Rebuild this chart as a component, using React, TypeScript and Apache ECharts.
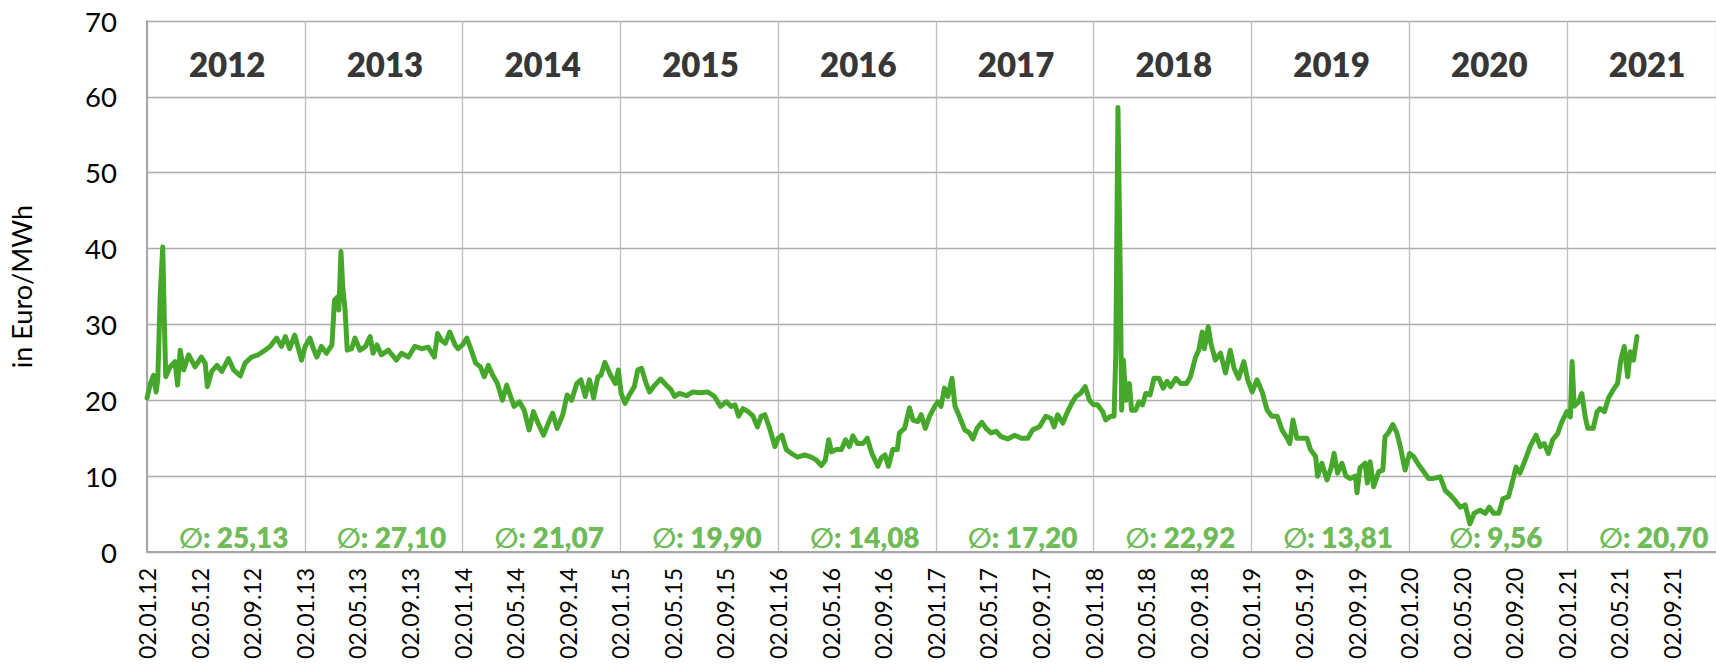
import React, { useEffect, useRef } from 'react';
import * as echarts from 'echarts';

// ---- Data ----
const yearLabels = ['2012', '2013', '2014', '2015', '2016', '2017', '2018', '2019', '2020', '2021'];
const averages = [25.13, 27.1, 21.07, 19.9, 14.08, 17.2, 22.92, 13.81, 9.56, 20.7];

const tickLabels = [
  '02.01.12', '02.05.12', '02.09.12', '02.01.13', '02.05.13', '02.09.13',
  '02.01.14', '02.05.14', '02.09.14', '02.01.15', '02.05.15', '02.09.15',
  '02.01.16', '02.05.16', '02.09.16', '02.01.17', '02.05.17', '02.09.17',
  '02.01.18', '02.05.18', '02.09.18', '02.01.19', '02.05.19', '02.09.19',
  '02.01.20', '02.05.20', '02.09.20', '02.01.21', '02.05.21', '02.09.21',
];

const dates2012 = ['01-02','01-10','01-17','01-23','01-27','02-02','02-08','02-12','02-15','02-25','03-06','03-12','03-18','03-26','04-07','04-22','05-06','05-15','05-20','05-30','06-12','06-23','07-08','07-20','08-05','08-16','08-31','09-16','10-01','10-13','10-28','11-09','11-18','11-28','12-09','12-18','12-25'];
const prices2012 = [20.3,22.2,23.3,21.1,22.7,33.6,40.2,29.7,23.1,24.4,25.1,22.0,26.6,24.0,26.0,24.4,25.7,24.9,21.8,23.8,24.6,23.8,25.5,24.0,23.2,24.9,25.7,26.0,26.6,27.1,28.2,27.1,28.4,26.8,28.6,26.8,25.3];

const dates2013 = ['01-03','01-14','01-22','01-30','02-10','02-22','03-04','03-10','03-17','03-20','03-25','03-29','04-04','04-09','04-19','04-27','05-08','05-21','06-01','06-08','06-17','06-27','07-13','08-01','08-13','08-29','09-13','09-29','10-14','10-28','11-05','11-14','11-23','12-03','12-15','12-22'];
const prices2013 = [27.1,28.2,26.8,25.7,27.1,26.2,27.3,33.2,33.6,31.9,39.6,35.0,31.9,26.6,26.8,28.2,26.6,27.1,28.4,26.2,27.3,26.0,26.6,25.3,26.2,25.7,27.1,26.8,27.0,25.7,28.8,27.9,27.5,29.0,27.3,26.8];

const dates2014 = ['01-02','01-12','01-21','02-02','02-13','02-22','03-01','03-11','03-22','04-03','04-13','04-22','04-30','05-12','05-23','06-04','06-14','06-23','07-07','07-18','07-28','08-08','08-21','08-31','09-11','09-23','10-02','10-12','10-22','11-01','11-11','11-18','11-27','12-10','12-21','12-28'];
const prices2014 = [27.3,28.2,26.8,24.9,24.4,23.1,24.6,23.3,22.2,20.0,22.0,20.5,19.2,19.8,18.7,16.1,18.5,17.2,15.4,17.0,18.3,16.3,18.1,20.7,20.0,22.2,22.7,20.5,22.7,20.3,23.1,23.3,25.0,23.3,22.2,24.0];

const dates2015 = ['01-04','01-13','01-23','02-04','02-12','02-21','03-01','03-09','03-21','04-04','04-17','04-28','05-06','05-17','06-03','06-18','07-03','07-22','08-07','08-21','09-04','09-15','09-24','10-02','10-12','10-24','11-05','11-15','11-24','12-02','12-13','12-25'];
const prices2015 = [20.9,19.6,20.7,21.8,24.0,24.2,22.2,21.1,22.0,22.8,22.0,21.4,20.5,20.9,20.6,21.1,21.0,21.1,20.5,19.2,19.8,19.2,19.4,17.9,18.9,18.5,17.9,16.5,17.9,18.1,16.3,13.9];

const dates2016 = ['01-02','01-11','01-21','02-02','02-17','03-03','03-18','03-30','04-11','04-20','04-28','05-04','05-15','05-27','06-06','06-15','06-23','07-03','07-16','07-26','08-06','08-20','08-28','09-06','09-14','09-24','10-04','10-09','10-21','11-02','11-10','11-21','11-29','12-08','12-18','12-30'];
const prices2016 = [15.0,15.4,13.5,13.0,12.5,12.8,12.5,12.1,11.4,12.1,14.8,13.2,13.5,13.5,14.8,13.9,15.3,14.3,14.3,15.0,13.0,11.3,12.4,12.8,11.3,13.5,13.5,15.7,16.3,19.0,17.4,17.2,18.1,16.3,17.9,19.2];

const dates2017 = ['01-07','01-14','01-22','01-30','02-09','02-16','02-26','03-08','03-19','03-27','04-06','04-17','04-27','05-08','05-20','06-01','06-16','07-02','07-17','08-02','08-13','08-29','09-13','09-25','10-02','10-10','10-22','11-01','11-12','11-22','12-02','12-13','12-23'];
const prices2017 = [19.8,19.2,21.6,20.5,22.9,19.2,17.9,16.1,15.7,14.9,16.3,17.1,16.3,15.7,15.9,15.2,14.9,15.4,15.0,15.0,16.1,16.5,17.9,17.6,16.5,18.1,17.0,18.3,19.6,20.5,20.9,21.8,20.0];

const dates2018 = ['01-02','01-11','01-23','01-30','02-11','02-19','02-23','02-28','03-03','03-06','03-10','03-16','03-24','03-29','04-08','04-16','04-24','05-01','05-11','05-20','06-01','06-11','06-20','06-28','07-10','07-21','08-04','08-13','08-25','09-02','09-10','09-15','09-24','09-30','10-10','10-22','11-03','11-14','11-23','12-03','12-15','12-24'];
const prices2018 = [19.4,19.4,18.5,17.4,17.9,17.9,26.2,58.6,35.8,18.7,25.3,20.0,22.2,18.7,18.7,19.8,19.4,20.9,20.7,22.9,22.9,21.6,22.5,21.8,22.9,22.2,22.2,23.1,25.7,26.6,29.0,26.8,29.7,27.5,25.3,26.2,23.6,26.6,24.2,22.9,25.1,22.7];

const dates2019 = ['01-04','01-15','01-27','02-08','02-19','03-01','03-12','03-24','03-30','04-07','04-16','04-28','05-09','05-17','05-29','06-03','06-13','06-25','07-04','07-11','07-19','07-29','08-08','08-18','08-30','09-03','09-10','09-22','09-27','10-03','10-11','10-23','11-02','11-07','11-15','11-25','12-04','12-12','12-23'];
const prices2019 = [21.1,22.7,21.1,18.7,17.9,17.9,16.1,15.0,14.3,17.4,15.0,15.0,15.0,13.5,12.6,10.0,11.7,9.5,11.1,13.0,10.4,11.7,10.0,9.7,10.0,7.8,11.1,11.7,9.1,11.9,8.6,10.6,10.8,15.2,15.7,16.8,15.7,13.9,10.8];

const dates2020 = ['01-03','01-12','01-24','02-05','02-16','02-28','03-13','03-25','04-06','04-17','04-29','05-10','05-21','05-31','06-14','06-26','07-05','07-15','07-27','08-06','08-19','08-27','09-06','09-15','09-27','10-08','10-22','11-01','11-10','11-20','11-30','12-11','12-21'];
const prices2020 = [13.0,12.6,11.5,10.6,9.7,9.7,9.9,8.1,7.5,6.8,5.9,6.2,3.7,5.1,5.5,5.1,5.9,5.1,5.1,7.0,7.3,9.0,11.2,10.4,12.1,13.9,15.4,13.9,14.3,13.0,14.8,15.6,17.2];

const dates2021 = ['01-02','01-10','01-14','01-19','01-29','02-06','02-14','02-20','03-02','03-11','03-18','03-28','04-07','04-18','04-28','05-05','05-13','05-21','05-27','06-04','06-12'];
const prices2021 = [18.5,17.8,25.1,19.2,19.8,20.9,17.8,16.3,16.3,18.5,18.9,18.5,20.3,21.4,22.2,25.3,27.1,23.1,26.4,25.3,28.4];

const yearDates = [dates2012, dates2013, dates2014, dates2015, dates2016, dates2017, dates2018, dates2019, dates2020, dates2021];
const yearPrices = [prices2012, prices2013, prices2014, prices2015, prices2016, prices2017, prices2018, prices2019, prices2020, prices2021];

// months since 02.01.2012
const toMonths = (yearIdx: number, md: string) => {
  const [m, d] = md.split('-').map(Number);
  return yearIdx * 12 + (m - 1) + (d - 2) / 30.5;
};

const GREEN = '#46A82A';
const FONT = 'Lato, "Noto Sans", "DejaVu Sans", sans-serif';

export default function App() {
  const ref = useRef<HTMLDivElement>(null);

  useEffect(() => {
    if (!ref.current) return;
    const chart = echarts.init(ref.current, undefined, { renderer: 'svg' });

    const lineData: [number, number][] = [];
    yearDates.forEach((ds, yi) => {
      ds.forEach((md, i) => lineData.push([toMonths(yi, md), yearPrices[yi][i]]));
    });

    const xMax = 119.34;

    chart.setOption({
      animation: false,
      grid: { left: 145, right: 0, top: 21, bottom: 113, containLabel: false },
      xAxis: [
        {
          type: 'value',
          min: 0,
          max: xMax,
          interval: 4,
          axisLine: { show: true, onZero: false, lineStyle: { color: '#a6a6a6', width: 2 } },
          axisTick: { show: false },
          splitLine: { show: false },
          axisLabel: {
            rotate: 90,
            margin: 16,
            fontSize: 23,
            color: '#000',
            fontFamily: FONT,
            showMaxLabel: false,
            formatter: (v: number) => {
              const idx = Math.round(v / 4);
              return Math.abs(v - idx * 4) < 0.01 && tickLabels[idx] ? tickLabels[idx] : '';
            },
          },
        },
        {
          type: 'value',
          position: 'top',
          min: 0,
          max: xMax,
          interval: 12,
          axisLine: { show: false },
          axisTick: { show: false },
          axisLabel: { show: false },
          splitLine: { show: true, lineStyle: { color: '#bfbfbf', width: 1.3 } },
        },
      ],
      yAxis: {
        type: 'value',
        min: 0,
        max: 70,
        interval: 10,
        name: 'in Euro/MWh',
        nameLocation: 'middle',
        nameRotate: 90,
        nameGap: 112,
        nameTextStyle: { fontSize: 27, color: '#000', fontFamily: FONT },
        axisLine: { show: true, lineStyle: { color: '#a6a6a6', width: 2 } },
        axisTick: { show: false },
        axisLabel: { margin: 30, fontSize: 27.5, color: '#000', fontFamily: FONT },
        splitLine: { show: true, lineStyle: { color: '#acacac', width: 1.3 } },
      },
      series: [
        {
          type: 'scatter',
          xAxisIndex: 0,
          silent: true,
          symbolSize: 1,
          itemStyle: { color: 'rgba(0,0,0,0)' },
          data: yearLabels.map((_, i) => [i * 12 + 6.1, 64.3]),
          label: {
            show: true,
            position: 'inside',
            formatter: (p: any) => yearLabels[p.dataIndex],
            fontSize: 33,
            fontWeight: 800,
            color: '#000',
            fontFamily: FONT,
          },
          z: 2,
        },
        {
          type: 'scatter',
          xAxisIndex: 0,
          silent: true,
          symbolSize: 1,
          itemStyle: { color: 'rgba(0,0,0,0)' },
          data: averages.map((_, i) => [i * 12 + 6.6, 2.0]),
          label: {
            show: true,
            position: 'inside',
            formatter: (p: any) => '\u2205: ' + averages[p.dataIndex].toFixed(2).replace('.', ','),
            fontSize: 28,
            fontWeight: 800,
            color: GREEN,
            fontFamily: FONT,
          },
          z: 2,
        },
        {
          type: 'line',
          xAxisIndex: 0,
          data: lineData,
          showSymbol: false,
          symbol: 'none',
          silent: true,
          lineStyle: { color: GREEN, width: 5, cap: 'round', join: 'round' },
          z: 3,
        },
      ],
    });

    return () => chart.dispose();
  }, []);

  return (
    <div
      ref={ref}
      style={{ position: 'absolute', left: 0, top: 0, width: 1716, height: 665, background: '#fff' }}
    />
  );
}
